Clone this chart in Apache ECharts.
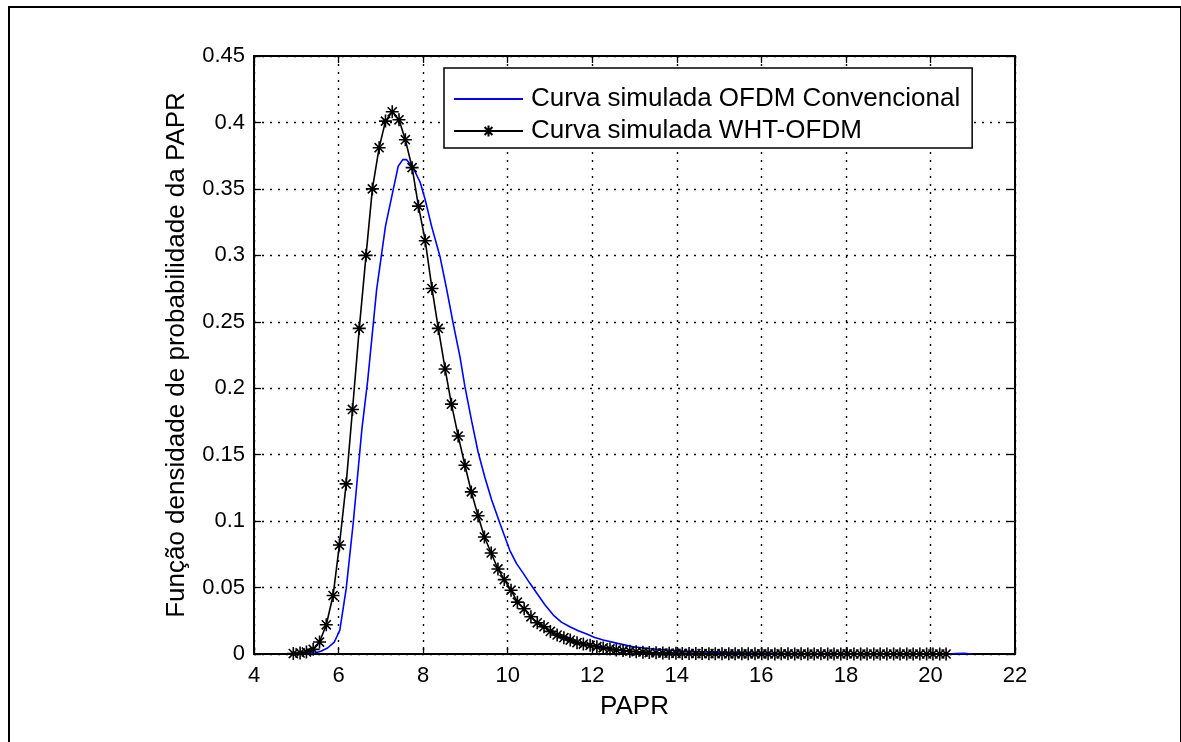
<!DOCTYPE html>
<html>
<head>
<meta charset="utf-8">
<script src="https://cdn.jsdelivr.net/npm/echarts@6/dist/echarts.min.js"></script>
<style>html,body{margin:0;padding:0;background:#fff;}#c{width:1181px;height:742px;}</style>
</head>
<body>
<div id="c"></div>
<script>
var xTicks = [4, 6, 8, 10, 12, 14, 16, 18, 20, 22];
var yTicks = [0, 0.05, 0.1, 0.15, 0.2, 0.25, 0.3, 0.35, 0.4, 0.45];
var seriesNames = ['Curva simulada OFDM Convencional', 'Curva simulada WHT-OFDM'];
var xName = 'PAPR';
var yName = 'Função densidade de probabilidade da PAPR';

var convX = [5.10, 5.26, 5.42, 5.58, 5.74, 5.90, 6.03, 6.18, 6.35, 6.55, 6.69, 6.90, 7.11, 7.41, 7.52, 7.61, 7.77, 7.93, 8.04, 8.20, 8.40, 8.56, 8.71, 8.87, 8.99, 9.15, 9.30, 9.46, 9.62, 9.82, 10.05, 10.21, 10.37, 10.53, 10.69, 10.88, 11.08, 11.27, 11.47, 11.67, 11.87, 12.06, 12.26, 12.60, 12.97, 13.36, 13.76, 14.15, 14.55, 15.00, 15.50, 16.00, 16.50, 17.00, 17.50, 18.00, 18.50, 19.00, 19.50, 20.00, 20.40, 20.60, 20.80, 20.90, 21.00];
var convY = [0, 0.0002, 0.0006, 0.002, 0.0045, 0.009, 0.018, 0.049, 0.0995, 0.1686, 0.206, 0.274, 0.322, 0.367, 0.372, 0.372, 0.3655, 0.355, 0.343, 0.322, 0.299, 0.274, 0.249, 0.224, 0.201, 0.175, 0.152, 0.133, 0.116, 0.098, 0.078, 0.068, 0.0607, 0.053, 0.0457, 0.037, 0.0293, 0.024, 0.0205, 0.0175, 0.015, 0.0125, 0.0105, 0.008, 0.0055, 0.004, 0.003, 0.0022, 0.0017, 0.0012, 0.0009, 0.0007, 0.0005, 0.0004, 0.0003, 0.0003, 0.0002, 0.0002, 0.0001, 0.0001, 0, 0.0004, 0.0006, 0.0002, 0];

var whtX = [4.93, 5.09, 5.24, 5.40, 5.55, 5.71, 5.87, 6.02, 6.18, 6.33, 6.49, 6.65, 6.80, 6.96, 7.11, 7.27, 7.43, 7.58, 7.74, 7.89, 8.05, 8.21, 8.36, 8.52, 8.67, 8.83, 8.99, 9.14, 9.30, 9.45, 9.61, 9.77, 9.92, 10.08, 10.23, 10.39, 10.55, 10.70, 10.86, 11.01, 11.17, 11.33, 11.48, 11.64, 11.79, 11.95, 12.11, 12.26, 12.42, 12.57, 12.73, 12.89, 13.04, 13.20, 13.35, 13.51, 13.67, 13.82, 13.98, 14.13, 14.29, 14.45, 14.60, 14.76, 14.91, 15.07, 15.23, 15.38, 15.54, 15.69, 15.85, 16.01, 16.16, 16.32, 16.47, 16.63, 16.79, 16.94, 17.10, 17.25, 17.41, 17.57, 17.72, 17.88, 18.03, 18.19, 18.35, 18.50, 18.66, 18.81, 18.97, 19.13, 19.28, 19.44, 19.59, 19.75, 19.91, 20.06, 20.22, 20.37];
var whtY = [0.0003, 0.0008, 0.0015, 0.0035, 0.009, 0.022, 0.044, 0.082, 0.128, 0.184, 0.245, 0.300, 0.350, 0.381, 0.401, 0.408, 0.402, 0.387, 0.366, 0.337, 0.311, 0.275, 0.245, 0.2145, 0.188, 0.164, 0.142, 0.122, 0.104, 0.088, 0.076, 0.064, 0.056, 0.048, 0.039, 0.034, 0.028, 0.0235, 0.0205, 0.017, 0.0143, 0.0123, 0.0105, 0.0085, 0.0075, 0.0065, 0.0055, 0.0046, 0.0038, 0.0031, 0.0026, 0.0021, 0.0017, 0.0014, 0.0011, 0.0009, 0.0007, 0.0006, 0.0005, 0.0004, 0.0004, 0.0003, 0.0003, 0.0002, 0.0002, 0.0002, 0.0001, 0.0001, 0.0001, 0.0001, 0.0001, 0.0001, 0.0001, 0, 0.0001, 0.0001, 0, 0.0001, 0, 0, 0.0001, 0, 0, 0, 0.0001, 0, 0, 0, 0, 0, 0, 0, 0, 0, 0, 0, 0, 0, 0, 0];

function pairs(xs, ys) { return xs.map(function (x, i) { return [x, ys[i]]; }); }

var FONT = '"Liberation Sans", Arial, Helvetica, sans-serif';
var asterisk = 'path://M0,50L100,50M50,0L50,100M15,15L85,85M85,15L15,85';

var chart = echarts.init(document.getElementById('c'), null, { renderer: 'canvas' });
var gridSplit = { show: true, lineStyle: { color: '#000', width: 1.4, type: [2, 6] } };
var option = {
  animation: false,
  backgroundColor: '#fff',
  textStyle: { fontFamily: FONT, color: '#000' },
  graphic: [{
    type: 'rect', left: 8, top: 6, z: -10, silent: true,
    shape: { width: 1172, height: 800 },
    style: { fill: '#fff', stroke: '#000', lineWidth: 2 }
  }],
  grid: { left: 254, top: 56, right: 166, bottom: 88, show: false },
  legend: {
    orient: 'vertical', left: 444, top: 68,
    padding: [18, 12, 4, 9], itemGap: 6, itemWidth: 69, itemHeight: 14,
    backgroundColor: '#fff', borderColor: '#000', borderWidth: 1.5, borderRadius: 0,
    textStyle: { fontFamily: FONT, fontSize: 26, color: '#000', padding: [0, 0, 0, 3] },
    data: seriesNames
  },
  xAxis: [{
    type: 'value', min: xTicks[0], max: xTicks[xTicks.length - 1], interval: 2,
    name: xName, nameLocation: 'middle', nameGap: 40,
    nameTextStyle: { fontFamily: FONT, fontSize: 26, color: '#000' },
    axisLine: { show: true, onZero: false, lineStyle: { color: '#000', width: 2 } },
    axisTick: { show: true, inside: true, length: 7, lineStyle: { color: '#000', width: 1.3 } },
    axisLabel: { fontFamily: FONT, fontSize: 22, color: '#000', margin: 11 },
    splitLine: gridSplit
  }, {
    type: 'value', position: 'top', min: xTicks[0], max: xTicks[xTicks.length - 1], interval: 2,
    axisLine: { show: true, onZero: false, lineStyle: { color: '#000', width: 2 } },
    axisTick: { show: true, inside: true, length: 7, lineStyle: { color: '#000', width: 1.3 } },
    axisLabel: { show: false }, splitLine: { show: false }
  }],
  yAxis: [{
    type: 'value', min: yTicks[0], max: yTicks[yTicks.length - 1], interval: 0.05,
    name: yName, nameLocation: 'middle', nameGap: 64,
    nameTextStyle: { fontFamily: FONT, fontSize: 26, color: '#000' },
    axisLine: { show: true, onZero: false, lineStyle: { color: '#000', width: 2 } },
    axisTick: { show: true, inside: true, length: 7, lineStyle: { color: '#000', width: 1.3 } },
    axisLabel: { fontFamily: FONT, fontSize: 22, color: '#000', margin: 9 },
    splitLine: gridSplit
  }, {
    type: 'value', position: 'right', min: yTicks[0], max: yTicks[yTicks.length - 1], interval: 0.05,
    axisLine: { show: true, onZero: false, lineStyle: { color: '#000', width: 2 } },
    axisTick: { show: true, inside: true, length: 7, lineStyle: { color: '#000', width: 1.3 } },
    axisLabel: { show: false }, splitLine: { show: false }
  }],
  series: [{
    name: seriesNames[0], type: 'line', data: pairs(convX, convY),
    showSymbol: false, symbol: 'circle', symbolSize: 8, smooth: false,
    lineStyle: { color: '#0000ff', width: 1.6 },
    itemStyle: { color: 'rgba(0,0,255,0)', borderWidth: 0 }, z: 2
  }, {
    name: seriesNames[1], type: 'line', data: pairs(whtX, whtY),
    symbol: asterisk, symbolSize: 13, showAllSymbol: true, smooth: false,
    lineStyle: { color: '#000', width: 1.6 },
    itemStyle: { color: '#000', borderColor: '#000', borderWidth: 1.6 }, z: 3
  }]
};
chart.setOption(option);
</script>
</body>
</html>
